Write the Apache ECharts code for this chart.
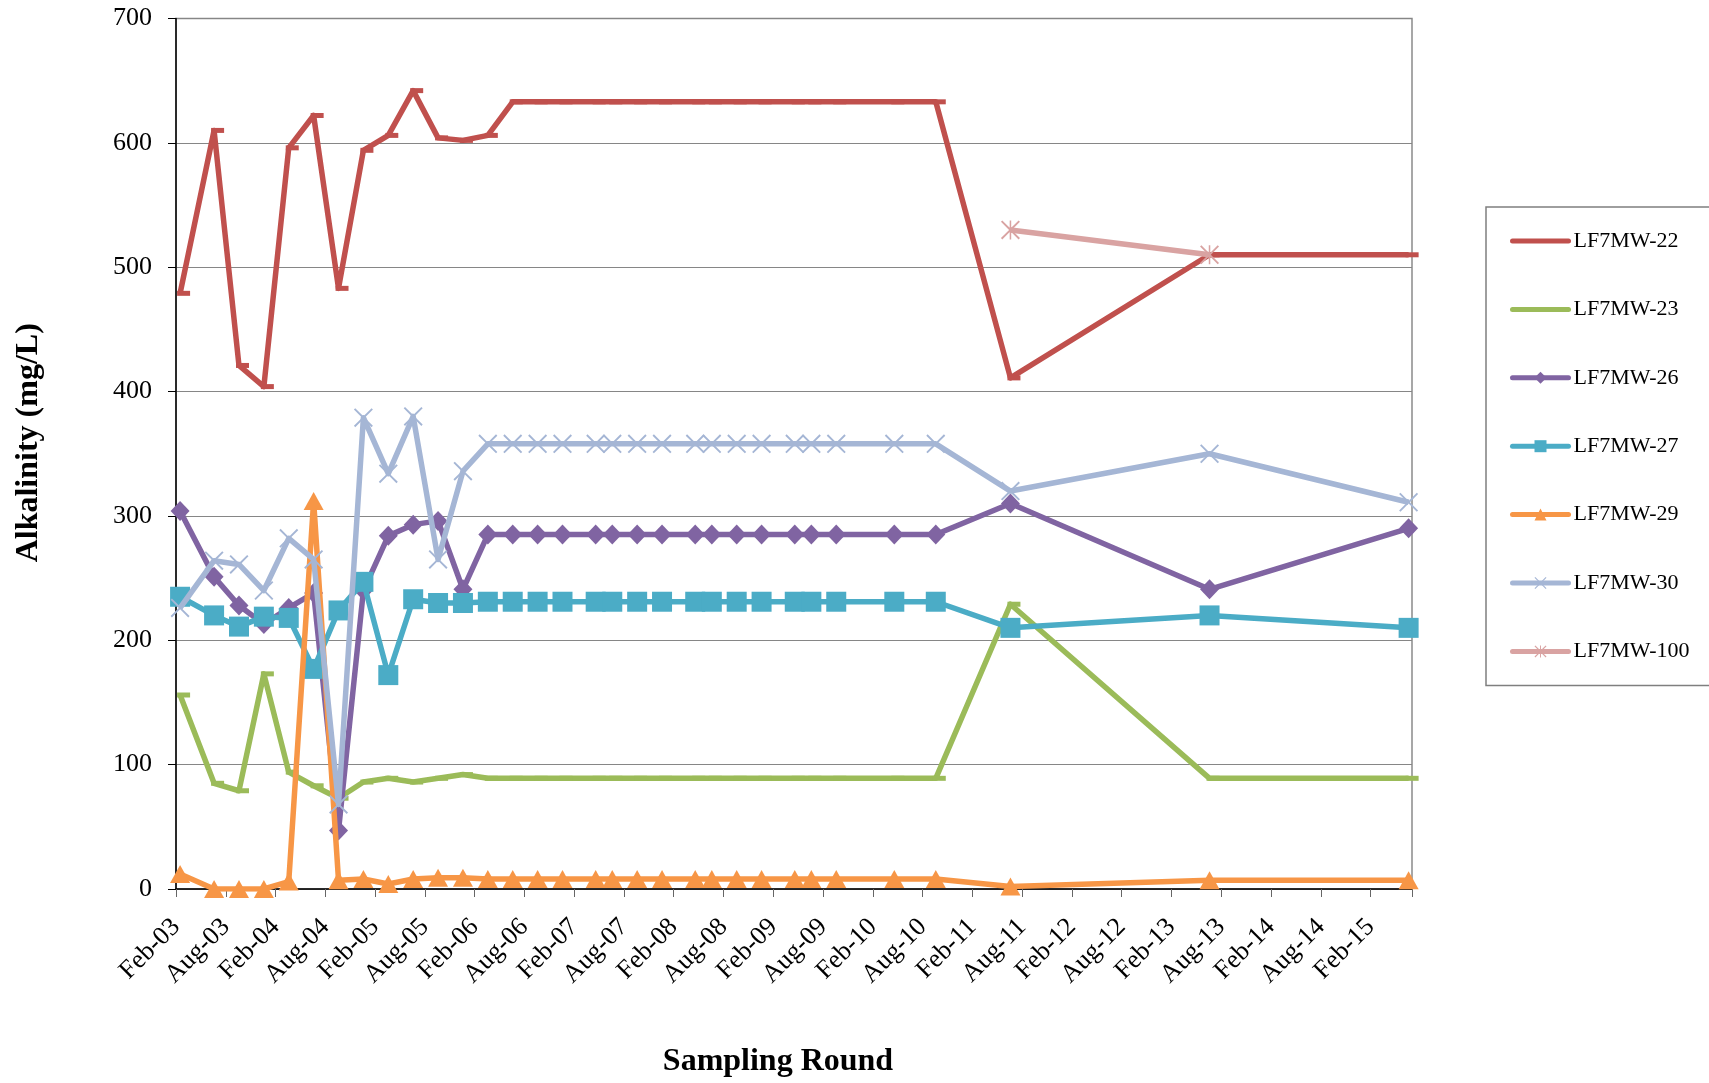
<!DOCTYPE html>
<html>
<head>
<meta charset="utf-8">
<script src="https://cdn.jsdelivr.net/npm/echarts@6/dist/echarts.min.js"></script>
<style>
  html, body { margin: 0; padding: 0; background: #fff; }
  #chart { width: 1709px; height: 1083px; }
</style>
</head>
<body>
<div id="chart"></div>
<script>
// Sampling rounds (shared by the monitoring wells LF7MW-22 ... LF7MW-30)
const sampleDates = [
  '2003-02-16', '2003-06-19', '2003-09-19', '2003-12-19', '2004-03-19', '2004-06-19',
  '2004-09-19', '2004-12-19', '2005-03-19', '2005-06-19', '2005-09-19', '2005-12-19',
  '2006-03-19', '2006-06-19', '2006-09-19', '2006-12-19', '2007-04-19', '2007-06-19',
  '2007-09-19', '2007-12-19', '2008-04-19', '2008-06-19', '2008-09-19', '2008-12-19',
  '2009-04-19', '2009-06-19', '2009-09-19', '2010-04-19', '2010-09-19', '2011-06-19',
  '2013-06-19', '2015-06-19'
];

// Alkalinity, mg/L
const mw22 = [479, 610, 421, 404, 596, 622, 483, 594, 606, 642, 604, 602, 606, 633, 633, 633,
              633, 633, 633, 633, 633, 633, 633, 633, 633, 633, 633, 633, 633, 411, 510, 510];
const mw23 = [156, 85, 79, 173, 94, 83, 73, 86, 89, 86, 89, 92, 89, 89, 89, 89,
              89, 89, 89, 89, 89, 89, 89, 89, 89, 89, 89, 89, 89, 229, 89, 89];
const mw26 = [304, 251, 228, 213, 226, 238, 47, 240, 284, 293, 296, 241, 285, 285, 285, 285,
              285, 285, 285, 285, 285, 285, 285, 285, 285, 285, 285, 285, 285, 310, 241, 290];
const mw27 = [235, 220, 211, 219, 218, 177, 224, 247, 172, 233, 230, 230, 231, 231, 231, 231,
              231, 231, 231, 231, 231, 231, 231, 231, 231, 231, 231, 231, 231, 210, 220, 210];
const mw29 = [12, 0, 0, 0, 6, 312, 7, 8, 4, 8, 9, 9, 8, 8, 8, 8,
              8, 8, 8, 8, 8, 8, 8, 8, 8, 8, 8, 8, 8, 2, 7, 7];
const mw30 = [226, 264, 261, 240, 282, 265, 68, 379, 334, 380, 265, 336, 358, 358, 358, 358,
              358, 358, 358, 358, 358, 358, 358, 358, 358, 358, 358, 358, 358, 320, 350, 311];
const mw100Dates = ['2011-06-19', '2013-06-19'];
const mw100 = [530, 510];

// Semi-annual tick labels, starting Feb 2003
const tickLabels = [
  'Feb-03', 'Aug-03', 'Feb-04', 'Aug-04', 'Feb-05', 'Aug-05', 'Feb-06', 'Aug-06', 'Feb-07',
  'Aug-07', 'Feb-08', 'Aug-08', 'Feb-09', 'Aug-09', 'Feb-10', 'Aug-10', 'Feb-11', 'Aug-11',
  'Feb-12', 'Aug-12', 'Feb-13', 'Aug-13', 'Feb-14', 'Aug-14', 'Feb-15'
];

// x position: months elapsed since 1 Feb 2003
function monthsFromFeb03(d) {
  const [y, m, day] = d.split('-').map(Number);
  return (y - 2003) * 12 + (m - 2) + (day - 1) / 30.4;
}
function pairs(dates, values) {
  return dates.map((d, i) => [monthsFromFeb03(d), values[i]]);
}

const FONT = 'Liberation Serif';
const CROSS = 'path://M0,1.4L1.4,0L10,8.6L18.6,0L20,1.4L11.4,10L20,18.6L18.6,20L10,11.4L1.4,20L0,18.6L8.6,10Z';
const STAR = CROSS + 'M9.2,0L10.8,0L10.8,20L9.2,20Z';

function well(name, data, color, symbol, size, z, extra) {
  return Object.assign({
    name: name,
    type: 'line',
    data: data,
    z: z,
    symbol: symbol,
    symbolSize: size,
    showAllSymbol: true,
    color: color,
    itemStyle: { color: color },
    lineStyle: { color: color, width: 5.5, join: 'round' },
    emphasis: { disabled: true },
    animation: false
  }, extra || {});
}

const series = [
  well('LF7MW-22', pairs(sampleDates, mw22), '#C0504D', 'rect', [13, 5], 2, { symbolOffset: [3.5, 0] }),
  well('LF7MW-23', pairs(sampleDates, mw23), '#9BBB59', 'rect', [13, 5], 3, { symbolOffset: [3.5, 0] }),
  well('LF7MW-26', pairs(sampleDates, mw26), '#8064A2', 'diamond', [19, 20], 4),
  well('LF7MW-27', pairs(sampleDates, mw27), '#4BACC6', 'rect', [20, 20], 5),
  well('LF7MW-29', pairs(sampleDates, mw29), '#F79646', 'triangle', [20, 18], 6),
  well('LF7MW-30', pairs(sampleDates, mw30), '#A5B6D5', CROSS, [19, 19], 7),
  well('LF7MW-100', pairs(mw100Dates, mw100), '#D9A3A2', STAR, [19, 19], 8)
];

const chart = echarts.init(document.getElementById('chart'), null, { renderer: 'canvas' });
chart.setOption({
  backgroundColor: '#ffffff',
  animation: false,
  grid: {
    left: 176, right: 297, top: 18.5, bottom: 192.5,
    show: true, borderColor: '#8a8a8a', borderWidth: 1.5, backgroundColor: 'transparent'
  },
  legend: {
    orient: 'vertical',
    left: 1486, top: 207,
    padding: [23, 200, 23, 24],
    itemGap: 46.4,
    itemWidth: 56,
    itemHeight: 15,
    borderColor: '#7f7f7f',
    borderWidth: 1.5,
    textStyle: { fontFamily: FONT, fontSize: 22, color: '#000' },
    lineStyle: { cap: 'round', width: 5 },
    data: [
      { name: 'LF7MW-22', itemStyle: { opacity: 0 } },
      { name: 'LF7MW-23', itemStyle: { opacity: 0 } },
      'LF7MW-26', 'LF7MW-27', 'LF7MW-29', 'LF7MW-30', 'LF7MW-100'
    ]
  },
  xAxis: {
    type: 'value',
    min: 0, max: 149, interval: 6,
    axisLine: { show: true, onZero: false, lineStyle: { color: '#000', width: 1.5 } },
    axisTick: { show: true, length: 8, lineStyle: { color: '#666', width: 1 } },
    splitLine: { show: false },
    axisLabel: {
      rotate: 45, margin: 34,
      fontFamily: FONT, fontSize: 26, color: '#000',
      formatter: v => (v % 6 === 0 ? tickLabels[v / 6] : '')
    },
    name: 'Sampling Round',
    nameLocation: 'middle',
    nameGap: 157,
    nameTextStyle: { fontFamily: FONT, fontWeight: 'bold', fontSize: 32, color: '#000', padding: [0, 32, 0, 0] }
  },
  yAxis: {
    type: 'value',
    min: 0, max: 700, interval: 100,
    axisLine: { show: true, lineStyle: { color: '#000', width: 1.5 } },
    axisTick: { show: true, length: 8, lineStyle: { color: '#000', width: 1 } },
    splitLine: { show: true, lineStyle: { color: '#868686', width: 1.2 } },
    axisLabel: { margin: 24, fontFamily: FONT, fontSize: 26, color: '#000' },
    name: 'Alkalinity (mg/L)',
    nameLocation: 'middle',
    nameRotate: 90,
    nameGap: 131,
    nameTextStyle: { fontFamily: FONT, fontWeight: 'bold', fontSize: 32, color: '#000', padding: [0, 0, 0, 22] }
  },
  series: series
});
</script>
</body>
</html>
